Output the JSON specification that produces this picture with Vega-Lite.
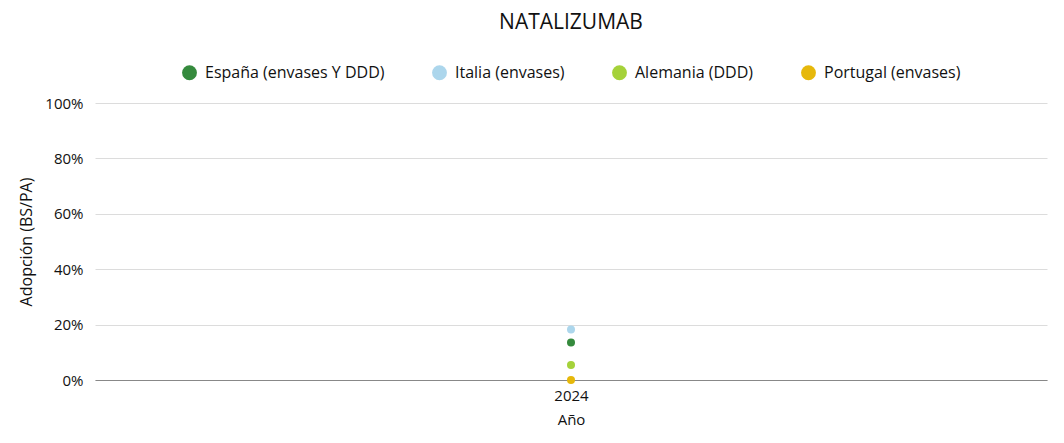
{
  "$schema": "https://vega.github.io/schema/vega-lite/v6.json",
  "autosize": {"type": "none"},
  "padding": {"left": 95, "top": 103, "right": 17, "bottom": 63},
  "width": 952,
  "height": 277,
  "background": "white",
  "config": {"view": {"stroke": null}, "legend": {"layout": {"top": {"anchor": "middle"}}}},
  "title": {"text": "NATALIZUMAB", "fontSize": 21, "font": "Open Sans", "fontWeight": "normal", "color": "#111", "anchor": "middle", "offset": 31},
  "data": {"values": [
    {"year": "2024", "pais": "España (envases Y DDD)", "valor": 0.135},
    {"year": "2024", "pais": "Italia (envases)", "valor": 0.182},
    {"year": "2024", "pais": "Alemania (DDD)", "valor": 0.054},
    {"year": "2024", "pais": "Portugal (envases)", "valor": 0.0}
  ]},
  "mark": {"type": "point", "filled": true, "opacity": 1, "size": 64},
  "encoding": {
    "x": {"field": "year", "type": "nominal", "title": "Año",
      "axis": {"labelAngle": 0, "ticks": false, "domain": true, "domainColor": "#888", "labelFont": "Open Sans", "labelFontSize": 15, "labelColor": "#111", "titleFont": "Open Sans", "titleFontSize": 15, "titleFontWeight": "normal", "titleColor": "#111", "labelPadding": 8, "titlePadding": 9}},
    "y": {"field": "valor", "type": "quantitative", "title": "Adopción (BS/PA)",
      "scale": {"domain": [0, 1]},
      "axis": {"format": ".0%", "values": [0, 0.2, 0.4, 0.6, 0.8, 1], "labelOverlap": false, "ticks": false, "domain": false, "gridColor": "#dcdcdc", "labelFont": "Open Sans", "labelFontSize": 15, "labelColor": "#111", "labelPadding": 12, "titleFont": "Open Sans", "titleFontSize": 16, "titleFontWeight": "normal", "titleColor": "#111", "titlePadding": 10}},
    "color": {"field": "pais", "type": "nominal",
      "scale": {"domain": ["España (envases Y DDD)", "Italia (envases)", "Alemania (DDD)", "Portugal (envases)"], "range": ["#358a3d", "#acd6ec", "#a5d23a", "#e6b80b"]},
      "legend": {"orient": "top", "direction": "horizontal", "title": null, "symbolType": "circle", "symbolSize": 220, "labelFont": "Open Sans", "labelFontSize": 16, "labelLimit": 400, "labelColor": "#111", "columnPadding": 46, "labelOffset": 7, "offset": 22}}
  }
}
